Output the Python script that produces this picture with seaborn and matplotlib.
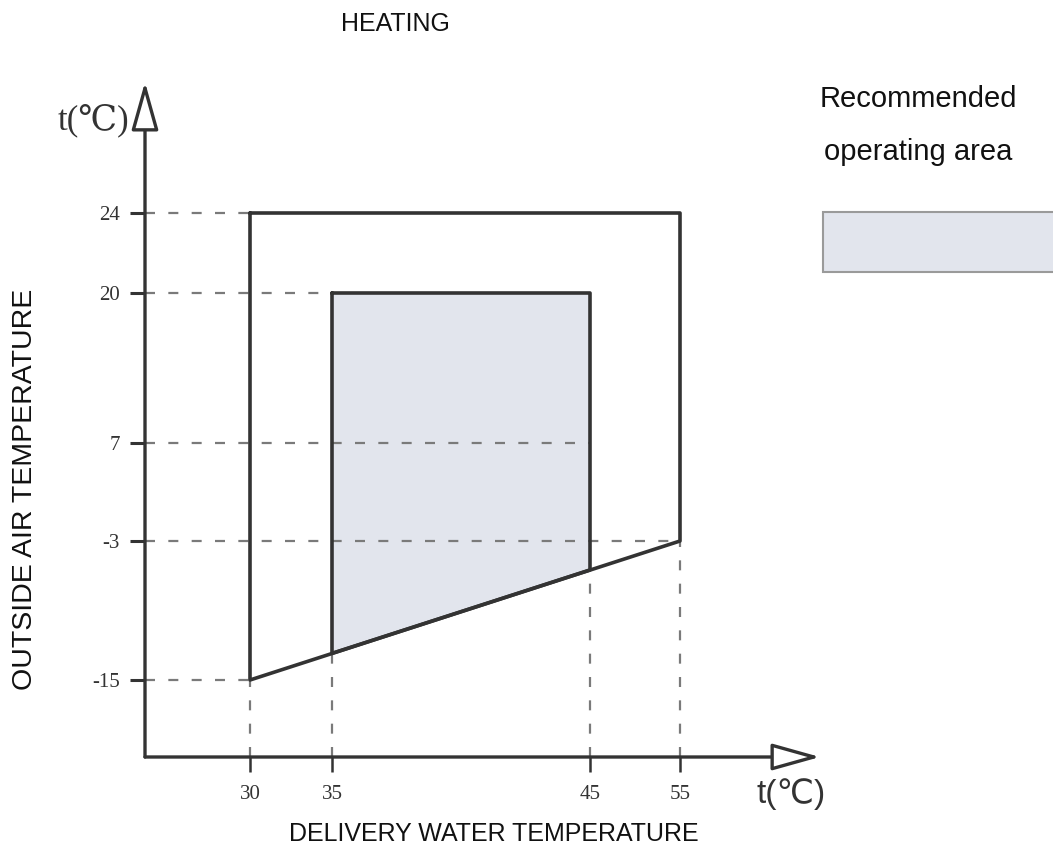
import numpy as np
import matplotlib
matplotlib.use("Agg")
import matplotlib.pyplot as plt
from matplotlib.patches import Rectangle
import seaborn as sns

# Tick values (the diagram uses an uneven, schematic spacing)
water_ticks = [30, 35, 45, 55]
air_ticks = [-15, -3, 7, 20, 24]

# Where each tick sits on the drawing (pixels), used to build the axis scales
water_pos = [250, 332, 590, 680]
air_pos = [170, 309, 407, 557, 637]

# Operating limits
outer_water = [30, 55, 55, 30, 30]
outer_air = [24, 24, -3, -15, 24]
inner_water = [35, 45, 45, 35, 35]
inner_air = [20, 20, -5.5, -12.7, 20]

line_col = "#333333"
dash_col = "#7a7a7a"
fill_col = "#e2e5ed"


def piecewise(xs, ps):
    xs = np.asarray(xs, float)
    ps = np.asarray(ps, float)

    def conv(v, a, b):
        v = np.asarray(v, float)
        out = np.interp(v, a, b)
        lo_slope = (b[1] - b[0]) / (a[1] - a[0])
        hi_slope = (b[-1] - b[-2]) / (a[-1] - a[-2])
        out = np.where(v < a[0], b[0] + (v - a[0]) * lo_slope, out)
        out = np.where(v > a[-1], b[-1] + (v - a[-1]) * hi_slope, out)
        return out

    return (lambda v: conv(v, xs, ps)), (lambda v: conv(v, ps, xs))


sns.set_theme(style="white")

W, H = 1053, 850
fig = plt.figure(figsize=(W / 100, H / 100), dpi=100)
ax_left, ax_right, ax_bottom, ax_top = 145, 820, 93, 768
ax = fig.add_axes([ax_left / W, ax_bottom / H,
                   (ax_right - ax_left) / W, (ax_top - ax_bottom) / H])

fx, ix = piecewise(water_ticks, water_pos)
fy, iy = piecewise(air_ticks, air_pos)
ax.set_xscale("function", functions=(fx, ix))
ax.set_yscale("function", functions=(fy, iy))
x0, x1 = float(ix(ax_left)), float(ix(ax_right))
y0, y1 = float(iy(ax_bottom)), float(iy(ax_top))
ax.set_xlim(x0, x1)
ax.set_ylim(y0, y1)

# shaded recommended area
ax.fill(inner_water, inner_air, color=fill_col, lw=0, zorder=1)

# dashed guide lines
dash = dict(color=dash_col, lw=1.6, linestyles=(0, (4.5, 6)), zorder=2)
h_ends = {24: 30, 20: 35, 7: 45, -3: 55, -15: 30}
for yv in air_ticks:
    ax.hlines(yv, x0, h_ends[yv], **dash)
v_ends = {30: -15, 35: inner_air[3], 45: inner_air[2], 55: -3}
for xv in water_ticks:
    ax.vlines(xv, y0, v_ends[xv], **dash)

# limit outlines
sns.lineplot(x=outer_water, y=outer_air, sort=False, estimator=None,
             color=line_col, lw=2.6, ax=ax, zorder=3)
sns.lineplot(x=inner_water, y=inner_air, sort=False, estimator=None,
             color=line_col, lw=2.6, ax=ax, zorder=3)

# axes drawn as arrows
for spine in ax.spines.values():
    spine.set_visible(False)
arrow = dict(arrowstyle="-|>,head_length=1.5,head_width=0.42", fc="white",
             ec=line_col, lw=2.4, shrinkA=0, shrinkB=0, mutation_scale=20)
ax.annotate("", xy=(0, 1), xytext=(0, 0), xycoords="axes fraction",
            arrowprops=arrow, zorder=4)
ax.annotate("", xy=(1, 0), xytext=(0, 0), xycoords="axes fraction",
            arrowprops=arrow, zorder=4)

ax.set_xticks(water_ticks)
ax.set_xticklabels([str(v) for v in water_ticks])
ax.set_yticks(air_ticks)
ax.set_yticklabels([str(v) for v in air_ticks])
ax.minorticks_off()
ax.tick_params(axis="y", direction="out", length=11, width=2.2,
               color=line_col, pad=7, left=True)
ax.tick_params(axis="x", direction="out", length=11, width=1.8,
               color=line_col, pad=9, bottom=True)
for lab in ax.get_xticklabels() + ax.get_yticklabels():
    lab.set_fontfamily(["Liberation Serif", "DejaVu Serif"])
    lab.set_fontsize(15)
    lab.set_color("#333333")
ax.set_xlabel("")
ax.set_ylabel("")
ax.grid(False)

sans = ["Liberation Sans", "DejaVu Sans"]

fig.text(395 / W, 1 - 24 / H, "HEATING", ha="center", va="center",
         fontsize=18, family=sans, color="#111111")
fig.text(25 / W, 1 - 489 / H, "OUTSIDE AIR TEMPERATURE", rotation=90,
         ha="center", va="center", fontsize=20.5, family=sans, color="#111111")
fig.text(494 / W, 1 - 834 / H, "DELIVERY WATER TEMPERATURE",
         ha="center", va="center", fontsize=18, family=sans, color="#111111")
fig.text(93 / W, 1 - 120 / H, "t(℃)", ha="center", va="center",
         fontsize=25, family=["Liberation Serif", "DejaVu Serif"], color="#333333")
fig.text(791 / W, 1 - 794 / H, "t(℃)", ha="center", va="center",
         fontsize=24, family=sans, color="#333333")

# legend
fig.text(820 / W, 1 - 107 / H, "Recommended", ha="left", va="baseline",
         fontsize=21, family=sans, color="#111111")
fig.text(824 / W, 1 - 160 / H, "operating area", ha="left", va="baseline",
         fontsize=21, family=sans, color="#111111")
fig.add_artist(Rectangle((823 / W, 1 - 272 / H), 240 / W, 60 / H,
                         transform=fig.transFigure, fc=fill_col,
                         ec="#9a9a9a", lw=1.5))

fig.savefig("out.png", dpi=100)
